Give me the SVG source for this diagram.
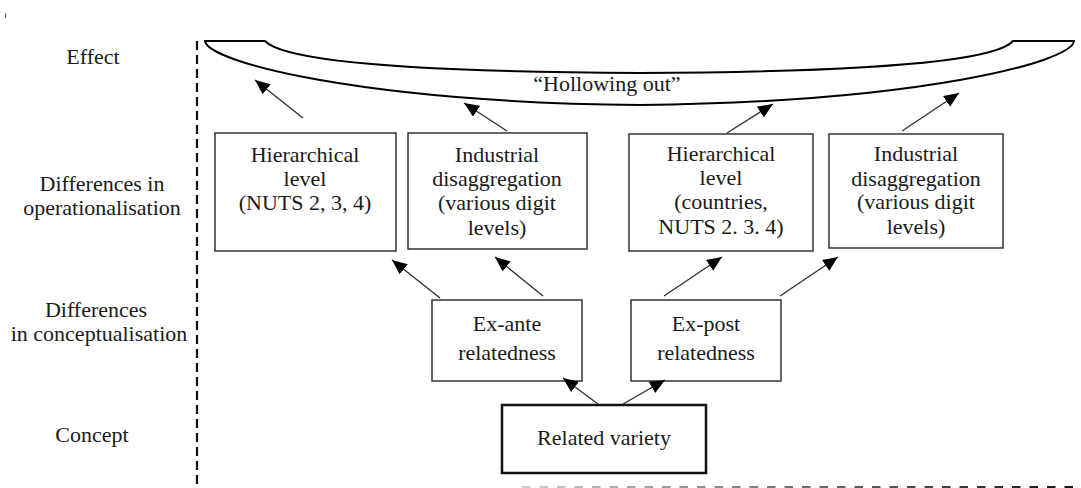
<svg xmlns="http://www.w3.org/2000/svg" width="1081" height="488" viewBox="0 0 1081 488">
<style>
text{font-family:'Liberation Serif',Tinos,'Times New Roman',Times,'Noto Serif','DejaVu Serif',FreeSerif,serif;font-size:22px;fill:#1a1a1a;text-anchor:middle}
.box{fill:#fff;stroke:#333;stroke-width:1.5}
.main{fill:#fff;stroke:#111;stroke-width:2.5}
.arr{stroke:#333;stroke-width:1.4;fill:none;marker-end:url(#ah)}
</style>
<defs>
<marker id="ah" markerUnits="userSpaceOnUse" markerWidth="16" markerHeight="14" refX="15" refY="6.5" orient="auto">
<path d="M0,0 L15,6.5 L0,13 z" fill="#000"/>
</marker>
<linearGradient id="gd" gradientUnits="userSpaceOnUse" x1="522" y1="0" x2="1081" y2="0">
<stop offset="0" stop-color="#ccc"/>
<stop offset="1" stop-color="#111"/>
</linearGradient>
<clipPath id="c3"><rect x="629" y="134" width="184" height="115"/></clipPath>
<clipPath id="c4"><rect x="829" y="134" width="174" height="112"/></clipPath>
</defs>
<g id="frame">
<line x1="5.5" y1="13" x2="5.5" y2="18" stroke="#555" stroke-width="1"/>
<line x1="197" y1="41" x2="197" y2="488" stroke="#111" stroke-width="2.2" stroke-dasharray="9 5"/>
<line x1="522" y1="487" x2="1081" y2="487" stroke="url(#gd)" stroke-width="2" stroke-dasharray="8.5 9"/>
</g>
<g id="labels">
<text x="93" y="64">Effect</text>
<text x="102" y="191">Differences in</text>
<text x="102" y="215">operationalisation</text>
<text x="96" y="317">Differences</text>
<text x="99" y="341">in conceptualisation</text>
<text x="92" y="442">Concept</text>
</g>
<g id="hollowing">
<path d="M205,41 L265,41 C285,62 420,72 640,73 C860,72 995,62 1013,41 L1074,41 C1072,62 920,102 640,105 C360,102 208,62 205,41 Z" fill="#fff" stroke="#000" stroke-width="2"/>
<text x="607" y="91">“Hollowing out”</text>
</g>
<g id="n1">
<rect class="box" x="215" y="133" width="181" height="118"/>
<text x="305" y="162">Hierarchical</text>
<text x="305" y="186">level</text>
<text x="305" y="210">(NUTS 2, 3, 4)</text>
</g>
<g id="n2">
<rect class="box" x="408" y="133" width="179" height="116"/>
<text x="497" y="162">Industrial</text>
<text x="497" y="186">disaggregation</text>
<text x="497" y="210">(various digit</text>
<text x="497" y="235">levels)</text>
</g>
<g id="n3">
<rect class="box" x="629" y="134" width="184" height="117"/>
<g clip-path="url(#c3)">
<text x="721" y="161">Hierarchical</text>
<text x="721" y="185">level</text>
<text x="721" y="209">(countries,</text>
<text x="721" y="234">NUTS 2. 3. 4)</text>
</g>
</g>
<g id="n4">
<rect class="box" x="829" y="134" width="174" height="114"/>
<g clip-path="url(#c4)">
<text x="916" y="161">Industrial</text>
<text x="916" y="186">disaggregation</text>
<text x="916" y="209">(various digit</text>
<text x="916" y="234">levels)</text>
</g>
</g>
<g id="n5">
<rect class="box" x="432" y="300" width="150" height="81"/>
<text x="507" y="331">Ex-ante</text>
<text x="507" y="360">relatedness</text>
</g>
<g id="n6">
<rect class="box" x="631" y="300" width="150" height="81"/>
<text x="706" y="331">Ex-post</text>
<text x="706" y="360">relatedness</text>
</g>
<g id="n7">
<rect class="main" x="502" y="405" width="204" height="68"/>
<text x="604" y="445">Related variety</text>
</g>
<g id="connectors">
<line class="arr" x1="303" y1="118" x2="255" y2="80"/>
<line class="arr" x1="507" y1="131" x2="464" y2="103"/>
<line class="arr" x1="727" y1="133" x2="773" y2="104"/>
<line class="arr" x1="902" y1="131" x2="959" y2="93"/>
<line class="arr" x1="440" y1="298" x2="392" y2="260"/>
<line class="arr" x1="543" y1="296" x2="495" y2="257"/>
<line class="arr" x1="664" y1="296" x2="722" y2="257"/>
<line class="arr" x1="780" y1="296" x2="838" y2="257"/>
<line class="arr" x1="598" y1="404" x2="563" y2="378"/>
<line class="arr" x1="623" y1="404" x2="665" y2="380"/>
</g>
</svg>
